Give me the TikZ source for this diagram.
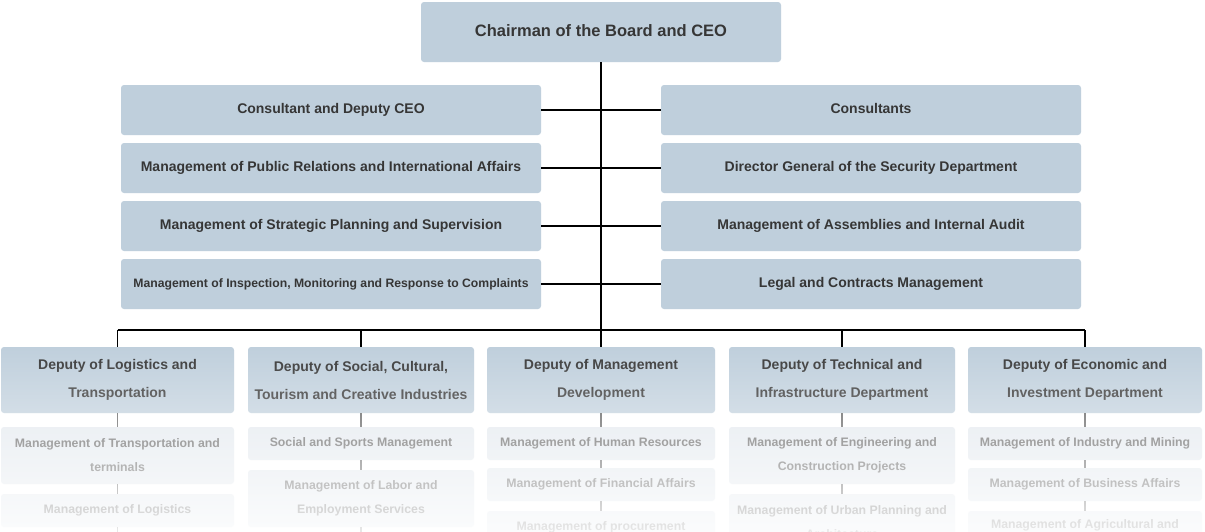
\documentclass[tikz,border=0pt]{standalone}
\usepackage{fontspec}
\setmainfont{Liberation Sans}
\usetikzlibrary{fadings}
\definecolor{boxc}{HTML}{BFCFDC}
\definecolor{subc}{HTML}{E2E8EE}
\definecolor{txt}{HTML}{363636}
\definecolor{subtxt}{HTML}{555555}
\tikzfading[name=fadedown, top color=transparent!100, bottom color=transparent!0]
\begin{document}
\begin{tikzpicture}[x=1pt,y=-1pt,
 box/.style={fill=boxc, rounded corners=3pt, inner sep=0pt, align=center, text=txt},
 topbox/.style={box, minimum width=360pt, minimum height=60pt, text height=12pt, text depth=3.5pt, font=\fontsize{16.5}{20}\selectfont\bfseries},
 sidebox/.style={box, minimum width=420pt, minimum height=50pt, text height=10.5pt, text depth=3pt, font=\fontsize{14}{17}\selectfont\bfseries},
 smallside/.style={sidebox, text height=9pt, text depth=2.6pt, font=\fontsize{12.2}{15}\selectfont\bfseries},
 depbox/.style={box, minimum height=66pt, font=\fontsize{14}{28}\selectfont\bfseries},
 subbox/.style={fill=subc, rounded corners=3pt, inner sep=0pt, align=center, text=subtxt, font=\fontsize{12.3}{24}\selectfont\bfseries},
 link/.style={line width=1.6pt, draw=black},
 sublink/.style={line width=1.6pt, draw=subtxt}]
\useasboundingbox (0,0) rectangle (1205,531);
\fill[white] (0,0) rectangle (1205,531);

% top
\node[topbox] (ceo) at (601,32) {Chairman of the Board and CEO};
% side boxes
\node[sidebox] (l1) at (331,110) {Consultant and Deputy CEO};
\node[sidebox] (l2) at (331,168) {Management of Public Relations and International Affairs};
\node[sidebox] (l3) at (331,226) {Management of Strategic Planning and Supervision};
\node[smallside] (l4) at (331,284) {Management of Inspection, Monitoring and Response to Complaints};
\node[sidebox] (r1) at (871,110) {Consultants};
\node[sidebox] (r2) at (871,168) {Director General of the Security Department};
\node[sidebox] (r3) at (871,226) {Management of Assemblies and Internal Audit};
\node[sidebox] (r4) at (871,284) {Legal and Contracts Management};

% deputies
\node[depbox, minimum width=233pt] (d1) at (117.5,380) {Deputy of Logistics and\\Transportation};
\node[depbox, minimum width=226pt] (d2) at (361,380) {Deputy of Social, Cultural,\\Tourism and Creative Industries};
\node[depbox, minimum width=228pt] (d3) at (601,380) {Deputy of Management\\Development};
\node[depbox, minimum width=226pt] (d4) at (842,380) {Deputy of Technical and\\Infrastructure Department};
\node[depbox, minimum width=234pt] (d5) at (1085,380) {Deputy of Economic and\\Investment Department};

% sub boxes
\node[subbox, minimum width=233pt, minimum height=57pt] (s11) at (117.5,455.5) {Management of Transportation and\\terminals};
\node[subbox, minimum width=233pt, minimum height=33pt] (s12) at (117.5,510.5) {Management of Logistics};
\node[subbox, minimum width=226pt, minimum height=33pt] (s21) at (361,443.5) {Social and Sports Management};
\node[subbox, minimum width=226pt, minimum height=57pt] (s22) at (361,498.5) {Management of Labor and\\Employment Services};
\node[subbox, minimum width=228pt, minimum height=33pt] (s31) at (601,443.5) {Management of Human Resources};
\node[subbox, minimum width=228pt, minimum height=33pt] (s32) at (601,484.5) {Management of Financial Affairs};
\node[subbox, minimum width=228pt, minimum height=33pt] (s33) at (601,527.5) {Management of procurement};
\node[subbox, minimum width=226pt, minimum height=57pt] (s41) at (842,455.5) {Management of Engineering and\\Construction Projects};
\node[subbox, minimum width=226pt, minimum height=57pt] (s42) at (842,522.5) {Management of Urban Planning and\\Architecture};
\node[subbox, minimum width=234pt, minimum height=33pt] (s51) at (1085,443.5) {Management of Industry and Mining};
\node[subbox, minimum width=234pt, minimum height=33pt] (s52) at (1085,484.5) {Management of Business Affairs};
\node[subbox, minimum width=234pt, minimum height=57pt] (s53) at (1085,539.5) {Management of Agricultural and\\\strut};

% connectors
\coordinate (b1) at (d1.north |- 0,330);
\coordinate (b2) at (d2.north |- 0,330);
\coordinate (b4) at (d4.north |- 0,330);
\coordinate (b5) at (d5.north |- 0,330);
\draw[link] (ceo.south) -- (d3.north);
\draw[link] (l1.east) -- (r1.west);
\draw[link] (l2.east) -- (r2.west);
\draw[link] (l3.east) -- (r3.west);
\draw[link] (l4.east) -- (r4.west);
\draw[link] (b1) -- (b5);
\draw[link] (b1) -- (d1.north);
\draw[link] (b2) -- (d2.north);
\draw[link] (b4) -- (d4.north);
\draw[link] (b5) -- (d5.north);

\coordinate (e1) at (117.5,545);
\coordinate (e2) at (361,545);
\draw[sublink] (d1.south) -- (s11.north);
\draw[sublink] (s11.south) -- (s12.north);
\draw[sublink] (s12.south) -- (e1);
\draw[sublink] (d2.south) -- (s21.north);
\draw[sublink] (s21.south) -- (s22.north);
\draw[sublink] (s22.south) -- (e2);
\draw[sublink] (d3.south) -- (s31.north);
\draw[sublink] (s31.south) -- (s32.north);
\draw[sublink] (s32.south) -- (s33.north);
\draw[sublink] (d4.south) -- (s41.north);
\draw[sublink] (s41.south) -- (s42.north);
\draw[sublink] (d5.south) -- (s51.north);
\draw[sublink] (s51.south) -- (s52.north);
\draw[sublink] (s52.south) -- (s53.north);

% fade-out overlay
\fill[white, path fading=fadedown] (-5,345) rectangle (1210,560);
\end{tikzpicture}
\end{document}
